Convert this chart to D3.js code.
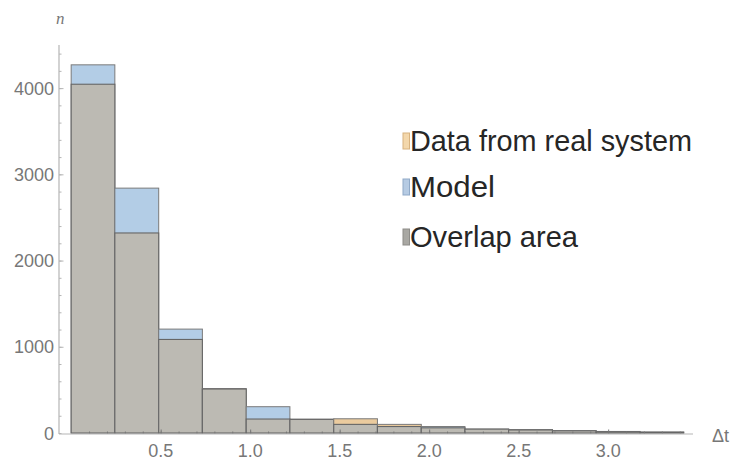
<!DOCTYPE html>
<html>
<head>
<meta charset="utf-8">
<script src="https://cdn.jsdelivr.net/npm/d3@7/dist/d3.min.js"></script>
<style>
  html, body { margin: 0; padding: 0; background: #fff; }
  svg { display: block; }
</style>
</head>
<body>
<svg id="chart" width="730" height="460"></svg>
<script>
// ---- data ----
const binEdges = [0, 0.244, 0.489, 0.733, 0.978, 1.222, 1.467, 1.711, 1.956, 2.2, 2.444, 2.689, 2.933, 3.178, 3.422];
const realData = [4045, 2320, 1085, 515, 162, 160, 165, 100, 60, 45, 35, 25, 18, 10];
const modelData = [4270, 2840, 1205, 510, 305, 158, 100, 75, 75, 45, 40, 28, 15, 10];
const xTickValues = [0.5, 1.0, 1.5, 2.0, 2.5, 3.0];
const yTickValues = [0, 1000, 2000, 3000, 4000];
const legendLabels = ["Data from real system", "Model", "Overlap area"];

const colors = {
  real: "#ebcb9e", model: "#b3cde6", overlap: "#bcbab3",
  realSw: "#f3d7ab", modelSw: "#b6cbe3", overlapSw: "#a9a8a3"
};

const svg = d3.select("#chart");
const x = d3.scaleLinear().domain([-0.068, 3.474]).range([59, 693]);
const y = d3.scaleLinear().domain([0, 4500]).range([433, 45]);

const bins = realData.map((r, i) => ({
  x0: binEdges[i], x1: binEdges[i + 1], real: r, model: modelData[i]
}));

// ---- bars ----
const g = svg.append("g");
bins.forEach(b => {
  const hi = Math.max(b.real, b.model), lo = Math.min(b.real, b.model);
  const col = b.real > b.model ? colors.real : colors.model;
  g.append("rect")
    .attr("x", x(b.x0)).attr("width", x(b.x1) - x(b.x0))
    .attr("y", y(hi)).attr("height", y(0) - y(hi))
    .attr("fill", col).attr("stroke", "#7a7a7a").attr("stroke-width", 1);
  g.append("rect")
    .attr("x", x(b.x0)).attr("width", x(b.x1) - x(b.x0))
    .attr("y", y(lo)).attr("height", y(0) - y(lo))
    .attr("fill", colors.overlap).attr("stroke", "#666").attr("stroke-width", 1.1);
});

// ---- axes ----
const axisColor = "#b5b5b5", labelColor = "#777";
const x0px = 59, y0px = 434;

// y axis
const yAxisMinor = d3.axisRight(y).tickValues(d3.range(0, 4600, 200)).tickSize(2.5).tickFormat("");
const gyMinor = svg.append("g").attr("transform", `translate(${x0px},0)`).call(yAxisMinor);
gyMinor.select(".domain").remove();
gyMinor.selectAll("line").attr("stroke", axisColor);
const yAxisMajor = d3.axisRight(y).tickValues(yTickValues.filter(v => v > 0)).tickSize(4.5).tickFormat("");
const gyMajor = svg.append("g").attr("transform", `translate(${x0px},0)`).call(yAxisMajor);
gyMajor.select(".domain").remove();
gyMajor.selectAll("line").attr("stroke", axisColor);
svg.append("line").attr("x1", x0px).attr("x2", x0px).attr("y1", 45).attr("y2", y0px)
  .attr("stroke", axisColor).attr("stroke-width", 1.2);
svg.append("g").selectAll("text").data(yTickValues).join("text")
  .attr("x", 54).attr("y", d => y(d) + 6.5)
  .attr("text-anchor", "end")
  .attr("font-family", "Liberation Sans, Arial, sans-serif")
  .attr("font-size", 18).attr("fill", labelColor)
  .text(d => d);

// x axis
const xAxisMinor = d3.axisTop(x).tickValues(d3.range(0.1, 3.45, 0.1)).tickSize(2.5).tickFormat("");
const gxMinor = svg.append("g").attr("transform", `translate(0,${y0px})`).call(xAxisMinor);
gxMinor.select(".domain").remove();
gxMinor.selectAll("line").attr("stroke", "#777");
const xAxisMajor = d3.axisTop(x).tickValues(xTickValues).tickSize(4.5).tickFormat("");
const gxMajor = svg.append("g").attr("transform", `translate(0,${y0px})`).call(xAxisMajor);
gxMajor.select(".domain").remove();
gxMajor.selectAll("line").attr("stroke", "#777");
svg.append("line").attr("x1", x0px).attr("x2", 693).attr("y1", y0px).attr("y2", y0px)
  .attr("stroke", axisColor).attr("stroke-width", 1.2);
svg.append("g").selectAll("text").data(xTickValues).join("text")
  .attr("x", d => x(d)).attr("y", 457)
  .attr("text-anchor", "middle")
  .attr("font-family", "Liberation Sans, Arial, sans-serif")
  .attr("font-size", 18).attr("fill", labelColor)
  .text(d => d.toFixed(1));

// axis labels
svg.append("text").attr("x", 56).attr("y", 24)
  .attr("font-family", "Liberation Serif, serif").attr("font-style", "italic")
  .attr("font-size", 17).attr("fill", labelColor).text("n");
svg.append("text").attr("x", 712).attr("y", 442)
  .attr("font-family", "Liberation Sans, Arial, sans-serif")
  .attr("font-size", 18).attr("fill", labelColor).text("Δt");

// ---- legend ----
const legendBaselines = [151, 197, 247];
const legendWidths = [282, 85, 168];
const swFill = [colors.realSw, colors.modelSw, colors.overlapSw];
const swStroke = ["#d8b27e", "#8fa9c8", "#8d8c88"];
const lg = svg.append("g");
legendLabels.forEach((t, i) => {
  lg.append("rect").attr("x", 403).attr("y", legendBaselines[i] - 18)
    .attr("width", 6.5).attr("height", 16)
    .attr("fill", swFill[i]).attr("stroke", swStroke[i]).attr("stroke-width", 1);
  lg.append("text").attr("x", 410).attr("y", legendBaselines[i])
    .attr("font-family", "Liberation Sans, Arial, sans-serif")
    .attr("font-size", 29.5).attr("fill", "#262626")
    .attr("textLength", legendWidths[i]).attr("lengthAdjust", "spacingAndGlyphs")
    .text(t);
});
</script>
</body>
</html>
